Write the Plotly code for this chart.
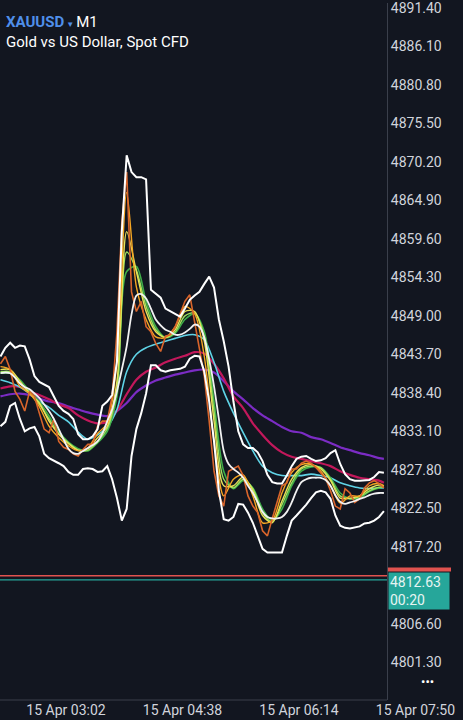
import pandas as pd
import plotly.graph_objects as go

# ---------------- data ----------------
symbol = "XAUUSD"
timeframe = "M1"
description = "Gold vs US Dollar, Spot CFD"
bid_price = 4812.63
ask_price = 4813.20
countdown = "00:20"

start_time = "2026-04-15 02:08"
price_step_min = 4
n_price = 80

price_close = [4842.4, 4843.4, 4841.6, 4838.6, 4837.5, 4835.9, 4838.6, 4837.9, 4835.6, 4833.4,
               4832.9, 4834.8, 4831.7, 4830.9, 4830.6, 4830.0, 4829.7, 4830.6, 4831.3, 4831.3,
               4833.8, 4834.5, 4834.5, 4837.9, 4846.8, 4861.9, 4868.8, 4852.3, 4849.6, 4851.0,
               4847.5, 4846.8, 4845.2, 4844.1, 4846.2, 4846.4, 4847.5, 4849.3, 4851.0, 4851.9,
               4848.2, 4844.8, 4840.7, 4834.5, 4827.6, 4824.2, 4822.8, 4827.6, 4827.9, 4828.3,
               4827.0, 4824.2, 4822.8, 4821.9, 4819.4, 4818.7, 4821.1, 4823.3, 4825.6, 4826.0,
               4827.9, 4827.9, 4828.7, 4829.0, 4828.7, 4828.1, 4827.4, 4826.6, 4824.9, 4822.8,
               4822.4, 4825.2, 4824.6, 4823.3, 4823.8, 4825.3, 4826.0, 4826.3, 4825.9, 4825.3]

band_upper = [4843.4, 4844.6, 4845.3, 4844.6, 4844.9, 4844.8, 4843.0, 4840.7, 4839.9, 4839.6,
              4839.2, 4837.9, 4836.6, 4835.9, 4835.5, 4834.8, 4832.7, 4832.0, 4832.0, 4832.4,
              4833.4, 4836.6, 4837.2, 4838.1, 4842.7, 4860.6, 4871.1, 4868.8, 4868.1, 4868.1,
              4867.8, 4852.6, 4852.0, 4851.5, 4850.0, 4849.6, 4849.2, 4848.9, 4850.0, 4851.2,
              4851.8, 4852.3, 4853.4, 4854.4, 4852.9, 4848.5, 4845.5, 4842.0, 4837.2, 4833.1,
              4831.3, 4830.8, 4830.8, 4830.2, 4829.0, 4827.1, 4826.1, 4825.9, 4825.9, 4827.0,
              4828.3, 4829.3, 4829.6, 4829.7, 4829.3, 4829.0, 4829.1, 4829.4, 4830.1, 4830.5,
              4828.6, 4827.2, 4826.5, 4826.3, 4826.3, 4826.3, 4826.4, 4826.8, 4827.5, 4827.4]

band_lower = [4833.8, 4834.4, 4836.6, 4837.0, 4834.8, 4833.1, 4833.5, 4833.7, 4832.4, 4830.0,
              4829.4, 4829.1, 4828.7, 4828.3, 4827.5, 4827.1, 4827.1, 4827.9, 4828.0, 4827.9,
              4827.5, 4827.6, 4828.3, 4826.5, 4823.9, 4820.8, 4822.4, 4829.7, 4833.4, 4835.6,
              4838.3, 4842.2, 4842.2, 4841.5, 4841.3, 4841.5, 4841.6, 4841.7, 4842.0, 4843.1,
              4843.5, 4843.4, 4841.3, 4837.2, 4831.7, 4824.9, 4821.0, 4820.8, 4821.3, 4823.1,
              4823.0, 4821.9, 4820.5, 4818.7, 4816.9, 4816.4, 4816.4, 4816.3, 4816.4, 4818.7,
              4820.8, 4821.5, 4822.2, 4823.0, 4823.9, 4824.7, 4824.9, 4824.7, 4823.8, 4821.5,
              4820.1, 4819.8, 4819.7, 4819.8, 4820.0, 4820.4, 4820.5, 4820.8, 4821.3, 4822.1]

band_middle = [4841.1, 4841.2, 4841.1, 4840.5, 4839.7, 4839.2, 4838.9, 4838.3, 4837.7, 4836.8,
               4835.9, 4834.8, 4833.4, 4832.0, 4830.7, 4830.1, 4830.0, 4830.4, 4830.8, 4831.2,
               4831.7, 4832.8, 4834.5, 4836.1, 4838.6, 4841.6, 4844.8, 4849.2, 4851.8, 4852.0,
               4851.4, 4850.0, 4848.5, 4847.7, 4847.1, 4846.8, 4846.4, 4846.4, 4846.7, 4847.2,
               4847.8, 4847.5, 4846.0, 4843.0, 4839.3, 4834.8, 4830.4, 4828.6, 4827.9, 4827.4,
               4826.7, 4825.6, 4824.6, 4823.3, 4822.0, 4821.3, 4821.1, 4821.1, 4821.3, 4822.0,
               4823.3, 4824.9, 4826.1, 4826.5, 4826.7, 4826.7, 4826.7, 4826.4, 4825.6, 4824.3,
               4823.4, 4823.1, 4823.3, 4823.5, 4823.8, 4824.0, 4824.3, 4824.5, 4824.6, 4824.6]

# moving averages, one value every 8 minutes plus the last bar
ma_orange = [4842.0, 4841.6, 4839.3, 4838.3, 4836.5, 4833.8, 4832.2, 4831.1, 4830.4, 4830.8,
             4832.8, 4834.2, 4842.7, 4866.0, 4853.0, 4848.5, 4846.1, 4846.0, 4847.5, 4850.3,
             4849.3, 4843.4, 4831.7, 4824.2, 4826.5, 4827.1, 4824.2, 4820.5, 4820.8, 4824.6,
             4827.4, 4828.5, 4828.6, 4827.6, 4825.6, 4823.2, 4824.2, 4824.2, 4825.6, 4825.9, 4825.6]
ma_yellow = [4841.6, 4841.6, 4840.0, 4838.3, 4837.0, 4834.5, 4832.7, 4831.4, 4830.5, 4830.7,
             4832.2, 4833.8, 4840.0, 4860.6, 4855.1, 4849.6, 4846.8, 4846.0, 4847.1, 4849.6,
             4849.6, 4845.5, 4834.5, 4825.6, 4825.6, 4826.8, 4824.9, 4821.5, 4820.5, 4823.5,
             4826.5, 4828.1, 4828.5, 4827.9, 4826.3, 4823.9, 4823.9, 4824.2, 4825.2, 4825.7, 4825.6]
ma_green = [4841.1, 4841.1, 4840.2, 4838.6, 4837.2, 4835.2, 4833.1, 4831.6, 4830.7, 4830.4,
            4831.5, 4833.1, 4837.9, 4855.1, 4855.8, 4851.0, 4847.5, 4846.0, 4846.6, 4848.5,
            4849.3, 4846.8, 4837.2, 4827.6, 4825.2, 4826.3, 4825.3, 4822.4, 4820.8, 4822.4,
            4825.6, 4827.6, 4828.2, 4828.1, 4826.7, 4824.6, 4823.8, 4823.9, 4824.8, 4825.3, 4825.4]
ma_lightgreen = [4841.3, 4841.3, 4839.7, 4838.5, 4836.8, 4834.8, 4832.8, 4831.5, 4830.5, 4830.5,
                 4831.7, 4833.5, 4838.9, 4857.8, 4855.3, 4850.3, 4847.1, 4846.0, 4846.8, 4849.0,
                 4849.4, 4846.1, 4835.9, 4826.5, 4825.3, 4826.5, 4825.2, 4821.9, 4820.6, 4823.0,
                 4826.0, 4827.9, 4828.3, 4828.1, 4826.5, 4824.2, 4823.8, 4824.1, 4824.9, 4825.4, 4825.4]
ma_cyan = [4840.2, 4839.8, 4839.2, 4838.3, 4837.2, 4836.4, 4835.3, 4834.4, 4833.0, 4832.0,
           4832.6, 4833.7, 4836.1, 4841.3, 4843.7, 4844.6, 4845.1, 4845.5, 4845.9, 4846.3,
           4846.4, 4845.7, 4842.6, 4838.6, 4835.6, 4832.9, 4830.4, 4828.3, 4827.4, 4827.0,
           4827.0, 4827.0, 4827.2, 4827.0, 4826.7, 4826.0, 4825.6, 4825.3, 4825.2, 4825.3, 4825.3]
ma_magenta = [4839.0, 4839.3, 4839.2, 4838.6, 4838.1, 4837.5, 4836.8, 4836.3, 4835.3, 4834.6,
              4834.2, 4834.4, 4835.9, 4838.2, 4840.2, 4841.3, 4841.9, 4842.6, 4843.1, 4843.5,
              4844.0, 4843.8, 4842.4, 4840.4, 4837.9, 4836.3, 4834.2, 4832.6, 4831.2, 4830.2,
              4829.6, 4829.3, 4829.0, 4828.7, 4828.3, 4827.6, 4827.1, 4826.7, 4826.5, 4826.3, 4826.0]
ma_purple = [4837.9, 4838.2, 4838.3, 4838.1, 4837.6, 4837.2, 4837.0, 4836.5, 4836.1, 4835.7,
             4835.4, 4835.2, 4835.9, 4837.0, 4838.5, 4839.4, 4840.1, 4840.5, 4840.9, 4841.2,
             4841.5, 4841.6, 4841.2, 4840.0, 4838.6, 4837.5, 4836.3, 4835.3, 4834.5, 4833.7,
             4833.1, 4832.9, 4832.3, 4832.0, 4831.5, 4830.9, 4830.5, 4830.1, 4829.8, 4829.4, 4829.3]

# 4811.90 sits behind the price label in the reference, so it is not listed
y_ticks = [4801.30, 4806.60, 4817.20, 4822.50, 4827.80, 4833.10, 4838.40, 4843.70,
           4849.00, 4854.30, 4859.60, 4864.90, 4870.20, 4875.50, 4880.80, 4886.10, 4891.40]
x_ticks = ["2026-04-15 03:02", "2026-04-15 04:38", "2026-04-15 06:14", "2026-04-15 07:50"]
x_range = ["2026-04-15 02:07:36", "2026-04-15 08:29:12"]
y_range = [4796.09, 4892.09]

# ---------------- figure ----------------
price_times = list(pd.date_range(start_time, periods=n_price, freq=f"{price_step_min}min"))
ma_times = price_times[::2] + [price_times[-1]]

BG = "#121620"
TXT = "#d1d4dc"
FONT = "Roboto"

fig = go.Figure()

def add(x, y, color, width, shape="linear"):
    fig.add_trace(go.Scatter(x=x, y=y, mode="lines", hoverinfo="skip", showlegend=False,
                             line=dict(color=color, width=width, shape=shape,
                                       smoothing=0.8 if shape == "spline" else None)))

add(ma_times, ma_purple, "#7b2cc4", 2.2, "spline")
add(ma_times, ma_magenta, "#c2185b", 2.2, "spline")
add(ma_times, ma_cyan, "#5fd3e6", 1.6, "spline")
add(ma_times, ma_green, "#3fae49", 1.6, "spline")
add(ma_times, ma_lightgreen, "#9be15d", 1.4, "spline")
add(ma_times, ma_yellow, "#e8e25a", 1.4, "spline")
add(ma_times, ma_orange, "#f5a623", 1.4, "spline")
add(price_times, price_close, "#d9652b", 1.6)
add(price_times, band_middle, "#f2f2f2", 1.8, "spline")
add(price_times, band_upper, "#ffffff", 2.0)
add(price_times, band_lower, "#ffffff", 2.0)

frame_x = 387 / 463
label_x1 = 451 / 463
shapes = [
    dict(type="line", xref="paper", yref="y", x0=0, x1=frame_x, y0=ask_price, y1=ask_price,
         line=dict(color="#e0524f", width=1.4)),
    dict(type="line", xref="paper", yref="y", x0=0, x1=frame_x, y0=bid_price, y1=bid_price,
         line=dict(color="#26a69a", width=1.4)),
    dict(type="line", xref="paper", yref="paper", x0=0, x1=frame_x, y0=0, y1=0,
         line=dict(color="#3a3f4b", width=1)),
    # top edge of the (hidden) ask label peeking above the bid label
    dict(type="rect", xref="paper", yref="y", x0=frame_x + 0.002, x1=label_x1,
         y0=ask_price + 0.6, y1=ask_price + 1.15, line=dict(width=0), fillcolor="#e0524f"),
]

annotations = [
    dict(xref="paper", yref="y", x=frame_x + 0.002, y=bid_price, xanchor="left", yanchor="middle",
         text=f"{bid_price:.2f}<br>{countdown}", showarrow=False, align="left", width=58,
         bgcolor="#26a69a", font=dict(family=FONT, size=14, color="#e6f4f2"), borderpad=1, yshift=-11),
    dict(xref="paper", yref="paper", x=0.008, y=1, xanchor="left", yanchor="top", yshift=-8,
         text=(f"<b><span style='color:#4f8fea'>{symbol}</span></b>"
               f"<span style='color:#4f8fea;font-size:8px'> ▼ </span>{timeframe}"),
         showarrow=False, font=dict(family=FONT, size=15, color="#ffffff")),
    dict(xref="paper", yref="paper", x=0.008, y=1, xanchor="left", yanchor="top", yshift=-28,
         text=description, showarrow=False, font=dict(family=FONT, size=15, color="#ffffff")),
    dict(xref="paper", yref="paper", x=0.923, y=0.027, xanchor="center", yanchor="middle",
         text="•••", showarrow=False, font=dict(family=FONT, size=13, color="#ffffff")),
]

fig.update_layout(
    width=463, height=720,
    margin=dict(l=0, r=0, t=0, b=20),
    paper_bgcolor=BG, plot_bgcolor=BG,
    font=dict(family=FONT, size=14, color=TXT),
    shapes=shapes, annotations=annotations,
    xaxis=dict(type="date", range=x_range, domain=[0, 1], showgrid=False, zeroline=False,
               showline=False, tickvals=x_ticks, tickformat="%d %b %H:%M", ticks="",
               tickfont=dict(family=FONT, size=14, color=TXT), fixedrange=True),
    yaxis=dict(range=y_range, side="right", anchor="free", position=frame_x,
               showgrid=False, zeroline=False, showline=True, linecolor="#3a3f4b", linewidth=1,
               tickvals=y_ticks, ticktext=[f"{v:.2f}" for v in y_ticks], ticks="",
               ticklabeloverflow="allow",
               tickfont=dict(family=FONT, size=14, color=TXT), fixedrange=True),
)

fig.write_html("out.html")
